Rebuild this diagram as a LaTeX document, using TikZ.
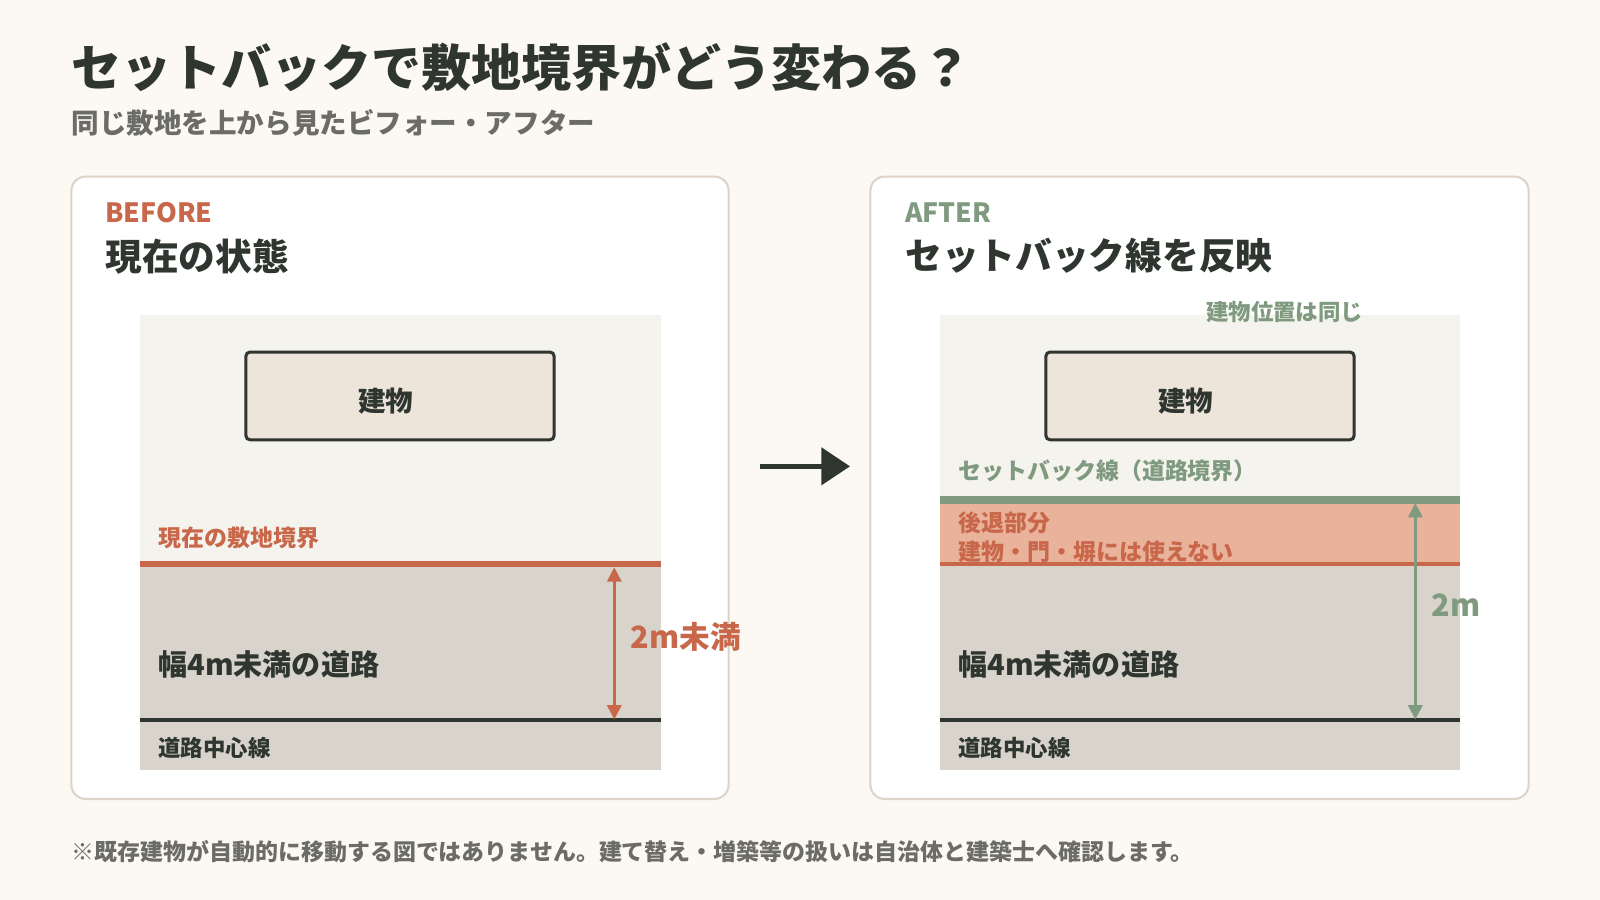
\documentclass[tikz,border=0pt]{standalone}
\usepackage{fontspec}
\setmainfont{Noto Sans CJK JP}
\usetikzlibrary{arrows.meta}
\definecolor{bg}{HTML}{FCF8F2}
\definecolor{ink}{HTML}{2F3630}
\definecolor{rust}{HTML}{C8674A}
\definecolor{sage}{HTML}{7F9A7F}
\definecolor{panelline}{HTML}{DDD3C8}
\definecolor{site}{HTML}{F5F3ED}
\definecolor{road}{HTML}{D8D4CC}
\definecolor{bldg}{HTML}{EDE4DA}
\definecolor{band}{HTML}{E8B29B}
\definecolor{note}{HTML}{6B6B68}
\tikzset{
  panel/.style={draw=panelline, line width=2pt, fill=white, rounded corners=14pt},
  building/.style={draw=ink, line width=3pt, fill=bldg, rounded corners=4pt},
  txt/.style={anchor=west, inner sep=0pt, font=\bfseries\fontsize{#1}{#1}\selectfont},
  dim/.style={line width=2.5pt, {Triangle[length=14pt,width=14pt]}-{Triangle[length=14pt,width=14pt]}}
}
\begin{document}
\begin{tikzpicture}[x=1pt, y=-1pt]
\fill[bg] (0,0) rectangle (1568,882);
\useasboundingbox (0,0) rectangle (1568,882);
% title
\node[txt=49, text=ink] (title) at (70,66) {セットバックで敷地境界がどう変わる？};
\node[txt=27, text=note] (sub) at (70,120) {同じ敷地を上から見たビフォー・アフター};
% before panel
\draw[panel] (70,173) rectangle (714,783);
\node[txt=26, text=rust] (bTag) at (103,208) {BEFORE};
\node[txt=36, text=ink] (bHead) at (103,251) {現在の状態};
\fill[site] (137,309) rectangle (648,755);
\fill[road] (137,553) rectangle (648,755);
\draw[rust, line width=6pt] (137,553) -- (648,553);
\draw[ink, line width=4pt] (137,706) -- (648,706);
\draw[building] (241,345) rectangle (543,431);
\node[txt=27, text=ink, anchor=center] (bBldg) at (378,393) {建物};
\node[txt=22.5, text=rust] (bLine) at (155,527) {現在の敷地境界};
\node[txt=28.5, text=ink] (bRoad) at (155,651) {幅4m未満の道路};
\node[txt=22, text=ink] (bCenter) at (155,733) {道路中心線};
\coordinate (bTop) at (602,556);
\coordinate (bBot) at (602,705);
\draw[dim, rust] (bTop) -- (bBot);
\node[txt=30, text=rust] (bDim) at (618,624) {2m未満};
% arrow between panels
\coordinate (mA) at (745,457);
\coordinate (mB) at (833,457);
\draw[ink, line width=5pt, -{Triangle[length=28pt,width=36pt]}] (mA) -- (mB);
% after panel
\draw[panel] (853,173) rectangle (1498,783);
\node[txt=26, text=sage] (aTag) at (887,208) {AFTER};
\node[txt=36, text=ink] (aHead) at (887,251) {セットバック線を反映};
\fill[site] (921,309) rectangle (1431,755);
\fill[road] (921,553) rectangle (1431,755);
\fill[band] (921,490) rectangle (1431,553);
\draw[sage, line width=7pt] (921,490) -- (1431,490);
\draw[rust, line width=4pt] (921,553) -- (1431,553);
\draw[ink, line width=4pt] (921,706) -- (1431,706);
\node[txt=22, text=sage, anchor=center] (aSame) at (1259,306) {建物位置は同じ};
\draw[building] (1025,345) rectangle (1327,431);
\node[txt=27, text=ink, anchor=center] (aBldg) at (1162,393) {建物};
\node[txt=22.5, text=sage] (aLine) at (939,461) {セットバック線（道路境界）};
\node[txt=22.5, text=rust] (aBand1) at (939,512) {後退部分};
\node[txt=22.5, text=rust] (aBand2) at (939,541) {建物・門・塀には使えない};
\node[txt=28.5, text=ink] (aRoad) at (939,651) {幅4m未満の道路};
\node[txt=22, text=ink] (aCenter) at (939,733) {道路中心線};
\coordinate (aTop) at (1387,493);
\coordinate (aBot) at (1387,705);
\draw[dim, sage] (aTop) -- (aBot);
\node[txt=30, text=sage] (aDim) at (1403,593) {2m};
% footnote
\node[txt=22.5, text=note] (foot) at (70,835) {※既存建物が自動的に移動する図ではありません。建て替え・増築等の扱いは自治体と建築士へ確認します。};
\end{tikzpicture}
\end{document}
